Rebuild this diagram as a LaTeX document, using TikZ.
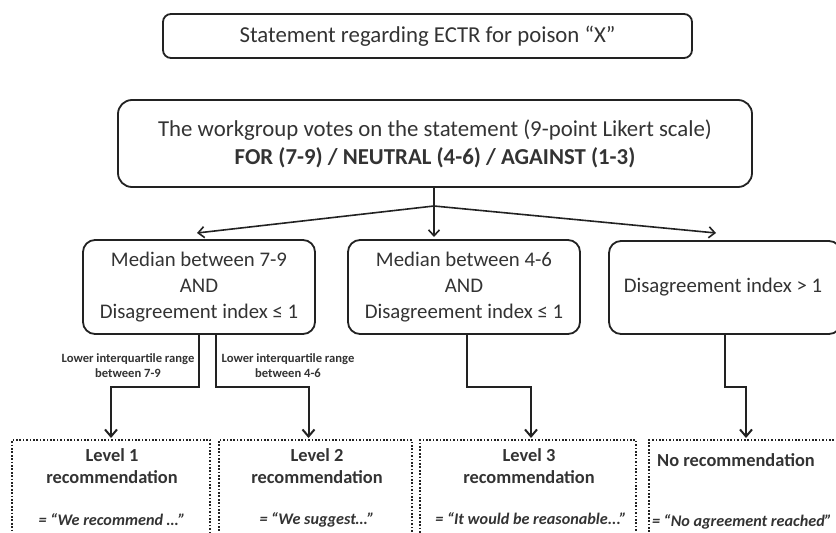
\documentclass[tikz,border=0pt]{standalone}
\usepackage{fontspec}
\setmainfont{Carlito}
\usetikzlibrary{arrows.meta,calc}
\definecolor{linecol}{HTML}{222222}
\definecolor{txtcol}{HTML}{333333}
\begin{document}
\begin{tikzpicture}[x=1pt,y=-1pt,
  solidbox/.style={draw=linecol, line width=1.8pt, rounded corners=12pt, text=txtcol, align=center, inner sep=0pt, font=\fontsize{20.8}{26}\selectfont},
  bigtxt/.style={font=\fontsize{22.8}{28}\selectfont},
  dotbox/.style={draw=linecol, line width=2pt, dash pattern=on 1.7pt off 1.7pt, anchor=north, minimum height=140pt, inner sep=0pt},
  leveltxt/.style={text=txtcol, align=center, font=\bfseries\fontsize{18.4}{22}\selectfont},
  quotetxt/.style={text=txtcol, align=center, font=\bfseries\itshape\fontsize{16.2}{18}\selectfont},
  lbl/.style={text=txtcol, align=center, font=\bfseries\fontsize{12.6}{15}\selectfont},
  plainline/.style={draw=linecol, line width=1.6pt},
  thinarrow/.style={draw=linecol, line width=1.6pt, -{Straight Barb[length=6pt,width=11pt,line width=1.6pt]}},
  conn/.style={draw=linecol, line width=2pt, -{Straight Barb[length=7pt,width=12pt,line width=2pt]}}
]
\useasboundingbox (0,0) rectangle (836,533);
\clip (0,0) rectangle (836,533);

\node[solidbox, bigtxt, minimum width=529pt, minimum height=44pt, rounded corners=8pt] (stmt) at (427.5,36) {Statement regarding ECTR for poison “X”};

\node[solidbox, bigtxt, minimum width=634pt, minimum height=87pt, rounded corners=14pt] (vote) at (435,143.5)
  {The workgroup votes on the statement (9-point Likert scale)\\\textbf{FOR (7-9) / NEUTRAL (4-6) / AGAINST (1-3)}};

\node[solidbox, minimum width=232pt, minimum height=94pt] (A) at (199,287) {Median between 7-9\\AND\\Disagreement index ≤ 1};
\node[solidbox, minimum width=232pt, minimum height=94pt] (B) at (464,287) {Median between 4-6\\AND\\Disagreement index ≤ 1};
\node[solidbox, minimum width=232pt, minimum height=93pt] (C) at (725,287.5) {};
\node[text=txtcol, font=\fontsize{20.8}{26}\selectfont] (Ct) at (723,287.5) {Disagreement index > 1};

\coordinate (br) at (434,206);
\coordinate (tA) at (197,233);
\coordinate (tB) at (434,237);
\coordinate (tC) at (716,233);
\draw[plainline] (vote.south -| br) -- (br);
\draw[thinarrow] (br) -- (tA);
\draw[thinarrow] (br) -- (tB);
\draw[thinarrow] (br) -- (tC);

\node[dotbox, minimum width=198pt] (D) at (111,439) {};
\node[dotbox, minimum width=193pt] (E) at (315.5,439) {};
\node[dotbox, minimum width=216pt] (F) at (528,439) {};
\node[dotbox, minimum width=201pt] (G) at (749.5,439) {};

\node[leveltxt] (Dt) at (112,466) {Level 1\\recommendation};
\node[leveltxt] (Et) at (317,466) {Level 2\\recommendation};
\node[leveltxt] (Ft) at (529,466) {Level 3\\recommendation};
\node[leveltxt] (Gt) at (736,460) {No recommendation};

\node[quotetxt] (Dq) at (112,520) {= “We recommend …”};
\node[quotetxt] (Eq) at (317,520) {= “We suggest…”};
\node[quotetxt] (Fq) at (531,519) {= “It would be reasonable...”};
\node[quotetxt] (Gq) at (742,522) {= “No agreement reached”};

\node[lbl] (l1) at (128,366) {Lower interquartile range\\between 7-9};
\node[lbl] (l2) at (288,366) {Lower interquartile range\\between 4-6};

\draw[conn] (A.south) -- ++(0,52) -| ($(D.north)+(0,-1)$);
\draw[conn] ($(A.south)+(17,0)$) -- ++(0,52) -| ($(E.north)+(-7,-1)$);
\draw[conn] ($(B.south)+(3,0)$) -- ++(0,52) -| ($(F.north)+(3,-1)$);
\draw[conn] (C.south) -- ++(0,52) -| ($(G.north)+(-3.5,-1)$);
\end{tikzpicture}
\end{document}
